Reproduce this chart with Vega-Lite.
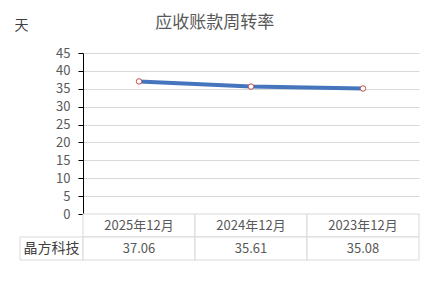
{
  "$schema": "https://vega.github.io/schema/vega-lite/v6.json",
  "autosize": {"type": "pad"},
  "padding": {"left": 14, "top": 14, "right": 14, "bottom": 36},
  "background": "white",
  "title": {"text": "应收账款周转率", "anchor": "middle", "frame": "bounds", "fontSize": 17, "fontWeight": "normal", "color": "#595959", "font": "Noto Sans CJK SC", "offset": -14, "dx": -2},
  "config": {"view": {"stroke": null}, "font": "Noto Sans CJK SC"},
  "datasets": {
    "d": [
      {"company": "晶方科技", "period": "2025年12月", "value": 37.06},
      {"company": "晶方科技", "period": "2024年12月", "value": 35.61},
      {"company": "晶方科技", "period": "2023年12月", "value": 35.08}
    ]
  },
  "columns": 2,
  "spacing": 0,
  "bounds": "flush",
  "resolve": {"scale": {"x": "independent", "y": "independent"}},
  "concat": [
    {
      "width": 63, "height": 161,
      "data": {"values": []},
      "mark": "point"
    },
    {
      "width": 336, "height": 161,
      "data": {"name": "d"},
      "encoding": {
        "x": {"field": "period", "type": "nominal", "sort": null, "scale": {"type": "point", "padding": 0.5}, "axis": null},
        "y": {"field": "value", "type": "quantitative", "scale": {"domain": [0, 45], "nice": false},
          "axis": {"values": [0, 5, 10, 15, 20, 25, 30, 35, 40, 45], "domainColor": "black", "tickColor": "black", "tickSize": 5, "labelColor": "#595959", "labelFontSize": 13, "labelPadding": 8, "gridColor": "#d9d9d9",
            "title": "天", "titleAngle": 0, "titleX": -69, "titleY": -28, "titleAlign": "left", "titleBaseline": "middle", "titleFontSize": 14, "titleFontWeight": "normal", "titleColor": "#404040"}}
      },
      "layer": [
        {"mark": {"type": "line", "color": "#4575bd", "strokeWidth": 4}},
        {"mark": {"type": "point", "filled": true, "fill": "white", "stroke": "#c0504d", "strokeWidth": 1, "size": 30, "opacity": 1}}
      ]
    },
    {
      "width": 63, "height": 46,
      "data": {"name": "d"},
      "transform": [{"aggregate": [{"op": "count", "as": "n"}], "groupby": ["company"]}],
      "encoding": {
        "y": {"datum": "v", "type": "nominal", "scale": {"type": "band", "domain": ["h", "v"], "paddingInner": 0, "paddingOuter": 0}, "axis": null}
      },
      "layer": [
        {"mark": {"type": "rect", "fill": "white", "stroke": "#d9d9d9", "strokeWidth": 1}},
        {"mark": {"type": "text", "fontSize": 14, "color": "#404040"}, "encoding": {"text": {"field": "company"}}}
      ]
    },
    {
      "width": 336, "height": 46,
      "data": {"name": "d"},
      "encoding": {
        "x": {"field": "period", "type": "nominal", "sort": null, "scale": {"type": "band", "paddingInner": 0, "paddingOuter": 0}, "axis": null}
      },
      "layer": [
        {"mark": {"type": "rect", "fill": "white", "stroke": "#d9d9d9", "strokeWidth": 1},
          "encoding": {"y": {"datum": "h", "type": "nominal", "scale": {"type": "band", "domain": ["h", "v"], "paddingInner": 0, "paddingOuter": 0}, "axis": null}}},
        {"mark": {"type": "rect", "fill": "white", "stroke": "#d9d9d9", "strokeWidth": 1},
          "encoding": {"y": {"datum": "v", "type": "nominal"}}},
        {"mark": {"type": "text", "fontSize": 13, "color": "#595959"},
          "encoding": {"y": {"datum": "h", "type": "nominal"}, "text": {"field": "period"}}},
        {"mark": {"type": "text", "fontSize": 13, "color": "#595959"},
          "encoding": {"y": {"datum": "v", "type": "nominal"}, "text": {"field": "value", "format": ".2f"}}}
      ]
    }
  ]
}
